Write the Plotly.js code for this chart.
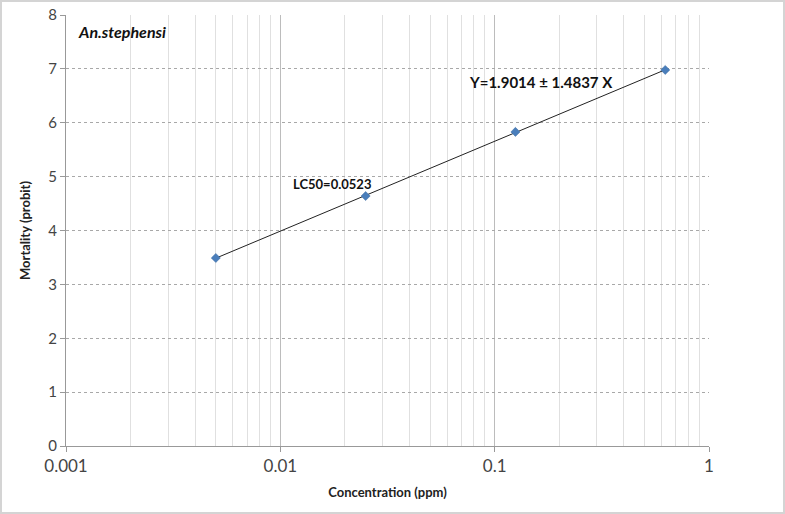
<!DOCTYPE html>
<html><head><meta charset="utf-8">
<script src="https://cdn.plot.ly/plotly-3.0.1.min.js"></script>
<style>
html,body{margin:0;padding:0;background:#fff;}
#wrap{width:785px;height:514px;box-sizing:border-box;border:2px solid #d4d4d4;}
#chart{width:781px;height:510px;}
</style></head>
<body><div id="wrap"><div id="chart"></div></div>
<script>
// Data
const concentration = [0.005, 0.025, 0.125, 0.625];
const mortality = [3.49, 4.64, 5.83, 6.98];
const xTickVals = [0.001, 0.01, 0.1, 1];
const xTickText = ['0.001', '0.01', '0.1', '1'];
const yTickVals = [0, 1, 2, 3, 4, 5, 6, 7, 8];
const seriesName = 'An.stephensi';
const equationText = 'Y=1.9014 ± 1.4837 X';
const lc50Text = 'LC50=0.0523';

// minor grid positions (2..9 of each decade)
const minorVals = [];
[0.001, 0.01, 0.1].forEach(d => { for (let k = 2; k <= 9; k++) minorVals.push(+(d * k).toPrecision(3)); });

// linear regression of probit on log10(concentration) for the trend line
const lx = concentration.map(Math.log10);
const n = lx.length;
const mx = lx.reduce((a, b) => a + b, 0) / n;
const my = mortality.reduce((a, b) => a + b, 0) / n;
let sxy = 0, sxx = 0;
for (let i = 0; i < n; i++) { sxy += (lx[i] - mx) * (mortality[i] - my); sxx += (lx[i] - mx) ** 2; }
const slope = sxy / sxx, icpt = my - slope * mx;
const trendX = [concentration[0], concentration[n - 1]];
const trendY = trendX.map(v => icpt + slope * Math.log10(v));

const font = 'Lato, "Open Sans", sans-serif';
const traces = [
  {x: trendX, y: trendY, mode: 'lines', line: {color: '#222', width: 1}, hoverinfo: 'skip', showlegend: false},
  {x: concentration, y: mortality, mode: 'markers', name: seriesName,
   marker: {symbol: 'diamond', size: 7, color: '#4a7ebb', line: {color: '#3b6aa0', width: 0.5}}, showlegend: false}
];
const layout = {
  width: 781, height: 510,
  margin: {l: 64, r: 74, t: 13, b: 66},
  paper_bgcolor: '#fff', plot_bgcolor: '#fff',
  font: {family: font, color: '#444', size: 14},
  showlegend: false,
  xaxis: {
    type: 'log', range: [-3, 0],
    tickvals: xTickVals, ticktext: xTickText,
    showgrid: true, gridcolor: '#bcbcbc', gridwidth: 1,
    minor: {tickvals: minorVals, showgrid: true, gridcolor: '#e0e0e0', gridwidth: 1, ticks: ''},
    ticks: 'outside', ticklen: 5, tickcolor: '#999',
    showline: true, linecolor: '#999', linewidth: 1,
    zeroline: false,
    tickfont: {size: 17, color: '#444'},
    title: {text: '<b>Concentration (ppm)</b>', font: {size: 13, color: '#222'}, standoff: 12}
  },
  yaxis: {
    range: [0, 8], tickvals: yTickVals,
    showgrid: true, gridcolor: '#a8a8a8', griddash: 'dot', gridwidth: 1,
    ticks: 'outside', ticklen: 5, tickcolor: '#999',
    showline: true, linecolor: '#999', linewidth: 1,
    zeroline: false,
    tickfont: {size: 15, color: '#444'},
    title: {text: '<b>Mortality (probit)</b>', font: {size: 13, color: '#222'}, standoff: 14}
  },
  annotations: [
    {xref: 'paper', yref: 'paper', x: 0.016, y: 0.962, xanchor: 'left', yanchor: 'middle',
     text: '<b><i>' + seriesName + '</i></b>', showarrow: false, font: {size: 16, color: '#111'}},
    {xref: 'x', yref: 'y', x: Math.log10(0.165), y: 6.75, xanchor: 'center', yanchor: 'middle',
     text: '<b>' + equationText + '</b>', showarrow: false, font: {size: 15, color: '#111'}},
    {xref: 'x', yref: 'y', x: Math.log10(0.0175), y: 4.86, xanchor: 'center', yanchor: 'middle',
     text: '<b>' + lc50Text + '</b>', showarrow: false, font: {size: 13, color: '#111'}}
  ]
};
Plotly.newPlot('chart', traces, layout, {displayModeBar: false, staticPlot: true});
</script></body></html>
